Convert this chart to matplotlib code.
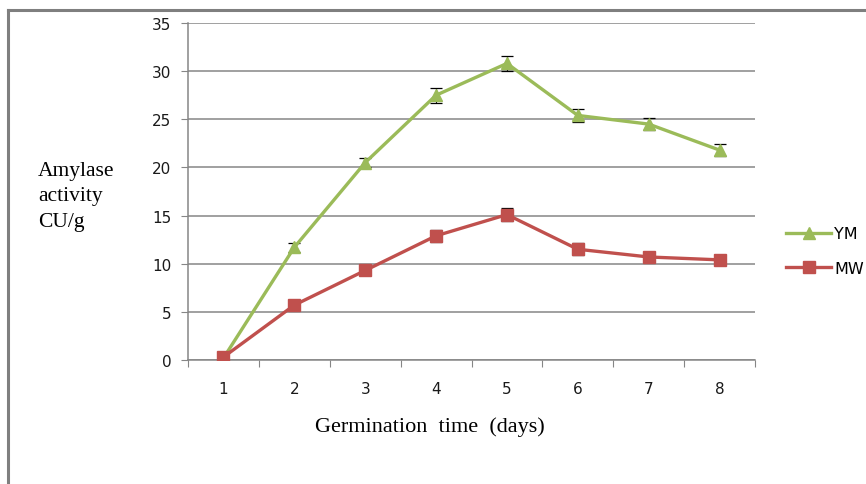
import matplotlib.pyplot as plt
from matplotlib.lines import Line2D
import numpy as np

days = [1, 2, 3, 4, 5, 6, 7, 8]
ym = [0.2, 11.7, 20.5, 27.5, 30.8, 25.4, 24.5, 21.8]
ym_err = [0.2, 0.5, 0.5, 0.8, 0.8, 0.7, 0.6, 0.6]
mw = [0.3, 5.7, 9.3, 12.9, 15.1, 11.5, 10.7, 10.4]
mw_err = [0.2, 0.3, 0.4, 0.6, 0.7, 0.6, 0.4, 0.3]

green = '#9BBB59'
red = '#C0504D'
grid_c = '#868686'

fig = plt.figure(figsize=(8.66, 4.85), dpi=100)
ax = fig.add_axes([188/866, 1-361/485, 567/866, 337/485])

x = np.arange(len(days))
ax.errorbar(x, ym, yerr=ym_err, color=green, lw=2.4, marker='^', ms=8,
            ecolor='black', elinewidth=0.8, capsize=4, capthick=0.9, zorder=3)
ax.errorbar(x, mw, yerr=mw_err, color=red, lw=2.4, marker='s', ms=8,
            ecolor='black', elinewidth=0.8, capsize=4, capthick=0.9, zorder=3)

ax.set_xlim(-0.5, len(days) - 0.5)
ax.set_ylim(0, 35)
ax.set_yticks(np.arange(0, 36, 5))
ax.set_xticks(np.arange(-0.5, len(days), 1))
ax.set_xticklabels([])
ax.set_xticks(x, minor=True)
ax.set_xticklabels([str(d) for d in days], minor=True)
ax.tick_params(axis='x', which='minor', length=0, pad=15)
ax.tick_params(axis='x', which='major', length=5, color=grid_c)
ax.tick_params(axis='y', length=5, color=grid_c, pad=7)
for lab in ax.get_xticklabels(minor=True) + ax.get_yticklabels():
    lab.set_fontfamily('DejaVu Sans')
    lab.set_fontsize(11)
    lab.set_color('#1a1a1a')

ax.yaxis.grid(True, color=grid_c, lw=1.1)
ax.set_axisbelow(True)
for s in ['top', 'right']:
    ax.spines[s].set_visible(False)
for s in ['left', 'bottom']:
    ax.spines[s].set_color(grid_c)
    ax.spines[s].set_linewidth(1.1)

handles = [Line2D([], [], color=green, lw=2.4, marker='^', ms=8),
           Line2D([], [], color=red, lw=2.4, marker='s', ms=8)]
fig.legend(handles, ['YM', 'MW'], loc='center left', bbox_to_anchor=(772/866, 1-252/485),
           frameon=False, handlelength=2.8, handletextpad=0.2, labelspacing=1.2,
           prop={'family': 'DejaVu Sans', 'size': 11.5})

fig.text(38/866, 1-197/485, 'Amylase\nactivity\nCU/g', ha='left', va='center',
         family='Liberation Serif', fontsize=15.5, linespacing=1.45)
fig.text(430/866, 1-427/485, 'Germination  time  (days)', ha='center', va='center',
         family='Liberation Serif', fontsize=16)

fig.add_artist(Line2D([8/866, 8/866], [0, 1-11/485], color='#7f7f7f', lw=2.2,
                      transform=fig.transFigure))
fig.add_artist(Line2D([8/866, 1], [1-11/485, 1-11/485], color='#7f7f7f', lw=2.2,
                      transform=fig.transFigure))

plt.savefig('out.png', dpi=100)
